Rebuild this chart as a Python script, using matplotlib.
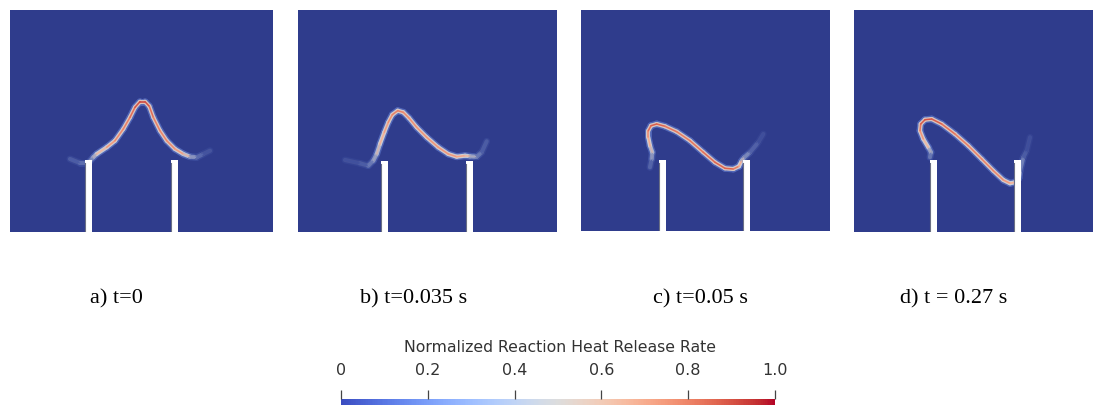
import numpy as np
import matplotlib
matplotlib.use("Agg")
import matplotlib.pyplot as plt
from matplotlib.collections import LineCollection
from matplotlib.patches import Rectangle
from matplotlib.colors import Normalize, to_rgba
from matplotlib.cm import ScalarMappable

W, H = 1102, 406
BG = "#2f3c8c"
cmap = plt.get_cmap("coolwarm")

# panel boxes in picture pixels: left, top, right, bottom
panel_boxes = [(10, 11, 273, 233), (298, 11, 557, 233), (581, 11, 830, 232), (854, 11, 1093, 233)]
captions = ["a) t=0", "b) t=0.035 s", "c) t=0.05 s", "d) t = 0.27 s"]
caption_x = [116.5, 413.5, 700, 953.5]

# wall (burner rim) left edges, width and top
wall_x = [(85, 171), (381, 466), (659, 743), (930, 1014)]
wall_w = 7
wall_top = [161, 161.5, 161, 161]

# flame fronts (picture pixels) and normalized heat release along them
flame_x = [
    [70, 80, 88.3, 93.3, 96.7, 106.7, 115, 123.3, 130, 135, 140, 145, 149.3, 153.3, 160, 166.7, 175, 183.3, 190, 196.7, 203.3, 210],
    [345, 360, 368.3, 373.3, 376.7, 380, 384.3, 388.3, 392.3, 397.7, 403.3, 409, 416.7, 426.7, 438.3, 448.3, 456.7, 465, 470, 476.7, 481.7, 486.7],
    [650, 651.7, 652.3, 650, 648.3, 648.3, 651, 656.7, 665, 676.7, 690, 703.3, 715, 725, 733.3, 739, 741.7, 744.3, 750, 758.3, 763.3],
    [930, 931, 928.3, 923.3, 920, 920.7, 925, 931.7, 941.7, 955, 968.3, 981.7, 993.3, 1003.3, 1010, 1015, 1019, 1020, 1023.3, 1026.7, 1030],
]
flame_y = [
    [160, 164, 164, 158.3, 155, 148.3, 141.7, 130, 118.3, 108.3, 102.7, 102.7, 107.3, 118.3, 131.7, 141.7, 150, 155, 157.7, 158.3, 155, 151.7],
    [161, 164.3, 166.7, 161.7, 155, 145, 133.3, 123.3, 115.7, 111.7, 113.3, 119, 128.3, 138.3, 148.3, 155, 157.7, 156.7, 157.3, 157.7, 153.3, 142.3],
    [168.3, 160, 153.3, 146.7, 138.3, 131.7, 126.7, 125, 127.3, 132.7, 141.7, 153.3, 163.3, 169.3, 170, 167.3, 161.7, 158.3, 153.3, 143.3, 135],
    [158.3, 153.3, 148.3, 140, 131.7, 125, 120.7, 120, 125, 135, 146.7, 160, 171.7, 181, 184.3, 183.3, 179, 171.7, 158.3, 151.7, 138.3],
]
flame_q = [
    [0.3, 0.35, 0.4, 0.5, 0.6, 0.72, 0.78, 0.8, 0.82, 0.88, 0.93, 0.93, 0.88, 0.82, 0.8, 0.8, 0.78, 0.7, 0.55, 0.4, 0.32, 0.28],
    [0.28, 0.3, 0.35, 0.45, 0.55, 0.65, 0.72, 0.76, 0.8, 0.82, 0.8, 0.78, 0.76, 0.76, 0.76, 0.76, 0.74, 0.7, 0.6, 0.45, 0.35, 0.3],
    [0.3, 0.4, 0.55, 0.65, 0.75, 0.82, 0.88, 0.88, 0.85, 0.82, 0.82, 0.84, 0.86, 0.88, 0.86, 0.78, 0.6, 0.5, 0.38, 0.3, 0.27],
    [0.35, 0.45, 0.6, 0.72, 0.8, 0.86, 0.9, 0.9, 0.86, 0.82, 0.8, 0.8, 0.8, 0.78, 0.72, 0.65, 0.6, 0.5, 0.35, 0.3, 0.27],
]

cbar_ticks = [0, 0.2, 0.4, 0.6, 0.8, 1.0]
cbar_labels = ["0", "0.2", "0.4", "0.6", "0.8", "1.0"]
cbar_title = "Normalized Reaction Heat Release Rate"

bg_rgb = np.array(to_rgba(BG)[:3])


def px_axes(fig, left, top, right, bottom):
    return fig.add_axes([left / W, 1 - bottom / H, (right - left) / W, (bottom - top) / H])


def segments(xs, ys):
    pts = np.column_stack([xs, ys])
    return np.stack([pts[:-1], pts[1:]], axis=1)


def faded(vals, strength, mix_max):
    # weak parts of the front fade into the background (opaque blend, no beading)
    cols = cmap(vals)[:, :3]
    a = (np.clip((strength - 0.22) / 0.45, 0.08, 1.0) * mix_max)[:, None]
    return np.column_stack([a * cols + (1 - a) * bg_rgb, np.ones(len(cols))])


fig = plt.figure(figsize=(W / 100, H / 100), dpi=100)
fig.patch.set_facecolor("white")

for i, (l, t, r, b) in enumerate(panel_boxes):
    ax = px_axes(fig, l, t, r, b)
    ax.set_facecolor(BG)
    ax.set_xlim(l, r)
    ax.set_ylim(b, t)
    ax.set_xticks([])
    ax.set_yticks([])
    for s in ax.spines.values():
        s.set_visible(False)

    segs = segments(flame_x[i], flame_y[i])
    q = np.array(flame_q[i])
    qs = (q[:-1] + q[1:]) / 2
    # soft glow, light ring, hot core
    glow = LineCollection(segs, colors=faded(np.full(len(segs), 0.22), qs, 0.4), linewidths=5.0,
                          capstyle="round", joinstyle="round")
    ring = LineCollection(segs, colors=faded(0.3 + 0.3 * qs, qs, 0.9), linewidths=3.0,
                          capstyle="round", joinstyle="round")
    core = LineCollection(segs, colors=faded(qs, qs, 1.0), linewidths=1.1,
                          capstyle="round", joinstyle="round")
    for lc in (glow, ring, core):
        ax.add_collection(lc)

    for wx in wall_x[i]:
        ax.add_patch(Rectangle((wx, wall_top[i]), wall_w, b - wall_top[i] + 2, facecolor="white", edgecolor="none", zorder=5))
        ax.plot([wx, wx], [wall_top[i] + 3, b + 2], color="#6a6f85", lw=0.8, zorder=6)

    fig.text(caption_x[i] / W, 1 - 303.5 / H, captions[i], ha="center", va="baseline",
             fontsize=16, family="Liberation Serif", color="black")

# colorbar
cax = fig.add_axes([341 / W, -1.5 / H, 434 / W, 8 / H])
cb = fig.colorbar(ScalarMappable(norm=Normalize(0, 1), cmap=cmap), cax=cax, orientation="horizontal")
cb.outline.set_visible(False)
cax.xaxis.set_ticks_position("top")
cax.xaxis.set_label_position("top")
cb.set_ticks(cbar_ticks)
cb.set_ticklabels(cbar_labels)
cax.tick_params(axis="x", length=6.7, width=0.9, color="#444444", labelsize=11.5, labelcolor="#333333", pad=9)
fig.text(559.7 / W, 1 - 348 / H, cbar_title, ha="center", va="center", fontsize=11.3, color="#333333")

fig.savefig("out.png", dpi=100, facecolor="white")
